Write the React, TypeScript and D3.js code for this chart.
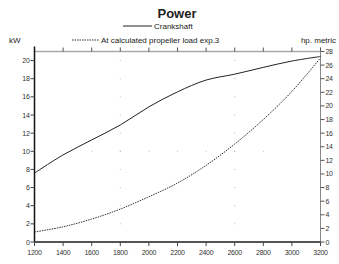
import React from "react";
import * as d3 from "d3";

const rpm = [1200, 1400, 1600, 1800, 2000, 2200, 2400, 2600, 2800, 3000, 3200];
const crankshaft = [7.6, 9.6, 11.25, 12.9, 14.9, 16.55, 17.85, 18.5, 19.25, 19.95, 20.45];
const propeller = [1.1, 1.68, 2.53, 3.63, 4.99, 6.5, 8.45, 10.8, 13.5, 16.6, 20.3];
const kwTicks = [0, 2, 4, 6, 8, 10, 12, 14, 16, 18, 20];
const hpTicks = [0, 2, 4, 6, 8, 10, 12, 14, 16, 18, 20, 22, 24, 26, 28];
const gridCols = [1800, 2600];
const gridColKw = [2, 4, 6, 8, 10, 12, 14, 16, 18, 20];
const gridRowRpm = [1600, 1800, 2000, 2200, 2400, 2600, 2800];
const gridRowKw = 10;

const W = 339;
const H = 264;
const L = 34.5;
const R = 320.5;
const T = 51.5;
const B = 242;

export default function App() {
  const x = d3.scaleLinear().domain([1200, 3200]).range([L, R]);
  const yKw = d3.scaleLinear().domain([0, 21]).range([B, T]);
  const yHp = d3.scaleLinear().domain([0, 28]).range([B, T]);

  const line = (vals: number[]) =>
    d3
      .line<number>()
      .x((_, i) => x(rpm[i]))
      .y((v) => yKw(v))
      .curve(d3.curveCatmullRom.alpha(0.5))(vals) as string;

  const tickFont = "'Liberation Sans Narrow', 'Liberation Sans', Arial, sans-serif";
  const font = "'Liberation Sans', Arial, sans-serif";
  const labelColor = "#333";

  return (
    <svg
      width={W}
      height={H}
      style={{ position: "absolute", left: 0, top: 0, background: "#fff" }}
    >
      {/* Title */}
      <text x={177} y={18} textAnchor="middle" fontFamily={font} fontWeight="bold" fontSize={13} fill="#222">
        Power
      </text>
      {/* Legend */}
      <line x1={123} x2={152} y1={26} y2={26} stroke="#222" strokeWidth={1} />
      <text x={154} y={29} fontFamily={font} fontSize={8} fill="#222">
        Crankshaft
      </text>
      <line x1={72} x2={99} y1={40} y2={40} stroke="#333" strokeWidth={1} strokeDasharray="1.5,1" />
      <text x={101} y={43} fontFamily={font} fontSize={8} fill="#222">
        At calculated propeller load exp.3
      </text>
      <text x={9} y={43} fontFamily={font} fontSize={8} fill="#222">
        kW
      </text>
      <text x={336} y={43} textAnchor="end" fontFamily={font} fontSize={8} fill="#222">
        hp. metric
      </text>

      {/* Grid dots */}
      {gridCols.map((c) =>
        gridColKw.map((k) => (
          <rect key={`c${c}-${k}`} x={x(c) - 0.5} y={yKw(k) - 0.5} width={1} height={1} fill="#bbb" />
        ))
      )}
      {gridRowRpm.map((r) => (
        <rect key={`r${r}`} x={x(r) - 0.5} y={yKw(gridRowKw) - 0.5} width={1} height={1} fill="#bbb" />
      ))}

      {/* Top axis */}
      <line x1={L} x2={R} y1={T} y2={T} stroke="#aaa" strokeWidth={1.5} />
      {rpm.map((r) => (
        <line key={`tt${r}`} x1={x(r)} x2={x(r)} y1={T} y2={T - 4} stroke="#555" strokeWidth={1} />
      ))}

      {/* Right axis */}
      <line x1={R} x2={R} y1={T} y2={B} stroke="#888" strokeWidth={1} />
      {hpTicks.map((h) => (
        <g key={`h${h}`}>
          <line x1={R} x2={R + 4} y1={yHp(h)} y2={yHp(h)} stroke="#555" strokeWidth={1} />
          <text x={R + 5} y={yHp(h) + 2.5} fontFamily={tickFont} fontSize={7} letterSpacing={-0.3} fill={labelColor}>
            {h}
          </text>
        </g>
      ))}

      {/* Left axis */}
      <line x1={L} x2={L} y1={T - 5} y2={B} stroke="#111" strokeWidth={1.5} />
      {kwTicks.map((k) => (
        <g key={`k${k}`}>
          <line x1={L - 4} x2={L} y1={yKw(k)} y2={yKw(k)} stroke="#444" strokeWidth={1} />
          <text x={L - 5} y={yKw(k) + 2.5} textAnchor="end" fontFamily={tickFont} fontSize={7} letterSpacing={-0.3} fill={labelColor}>
            {k}
          </text>
        </g>
      ))}

      {/* Bottom axis */}
      <line x1={L} x2={R} y1={B} y2={B} stroke="#555" strokeWidth={2} />
      {rpm.map((r) => (
        <g key={`b${r}`}>
          <line x1={x(r)} x2={x(r)} y1={B} y2={B + 4} stroke="#444" strokeWidth={1} />
          <text x={x(r)} y={255} textAnchor="middle" fontFamily={tickFont} fontSize={7} letterSpacing={-0.3} fill={labelColor}>
            {r}
          </text>
        </g>
      ))}

      {/* Series */}
      <path d={line(propeller)} fill="none" stroke="#333" strokeWidth={1} strokeDasharray="1.5,1" />
      <path d={line(crankshaft)} fill="none" stroke="#222" strokeWidth={1} />
    </svg>
  );
}
